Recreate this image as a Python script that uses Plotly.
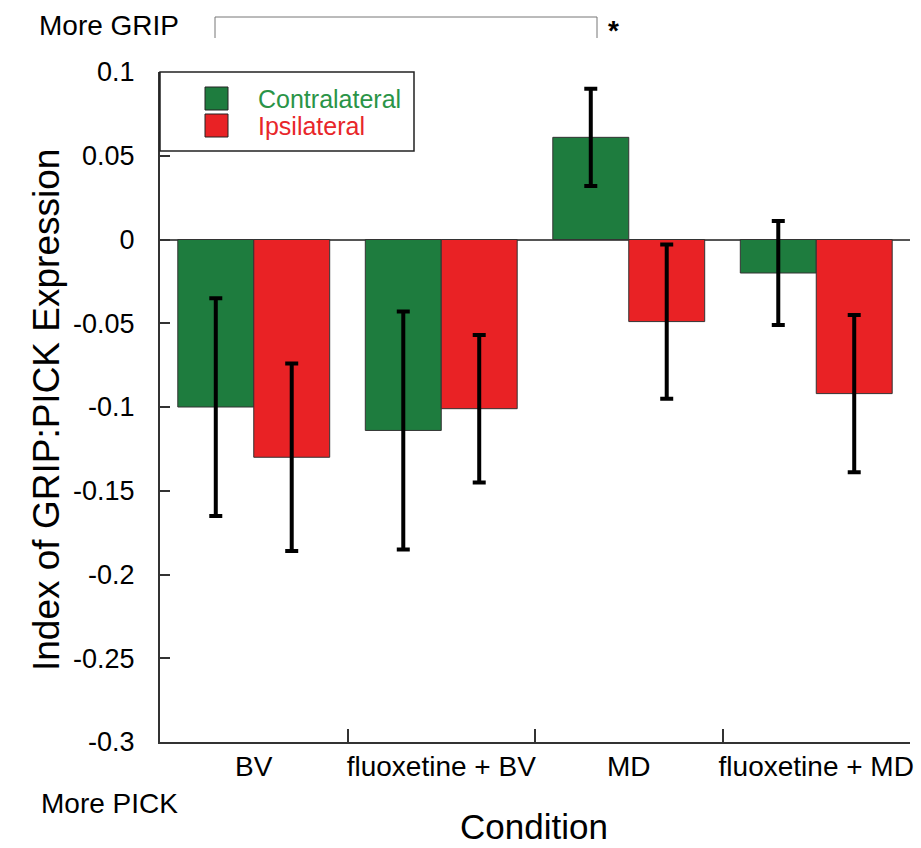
import plotly.graph_objects as go

conditions = ["BV", "fluoxetine + BV", "MD", "fluoxetine + MD"]
series_names = ["Contralateral", "Ipsilateral"]
contra_vals = [-0.100, -0.114, 0.061, -0.020]
contra_err = [0.065, 0.071, 0.029, 0.031]
ipsi_vals = [-0.130, -0.101, -0.049, -0.092]
ipsi_err = [0.056, 0.044, 0.046, 0.047]
ytick_vals = [0.1, 0.05, 0, -0.05, -0.1, -0.15, -0.2, -0.25, -0.3]
ytick_text = ["0.1", "0.05", "0", "-0.05", "-0.1", "-0.15", "-0.2", "-0.25", "-0.3"]

GREEN = "#1e7c3e"
RED = "#e92225"
GREEN_TXT = "#2a9447"
RED_TXT = "#e8262a"
FONT = "Liberation Sans, Arial, sans-serif"

W, H = 921, 848
L, R, T, B = 160, 11, 72, 106
PW, PH = W - L - R, H - T - B


def px(x):
    return (x - L) / PW


def py(y):
    return (H - B - y) / PH


fig = go.Figure()
for name, vals, errs, col in [(series_names[0], contra_vals, contra_err, GREEN),
                              (series_names[1], ipsi_vals, ipsi_err, RED)]:
    fig.add_trace(go.Bar(
        x=conditions, y=vals, name=name,
        marker=dict(color=col, line=dict(color="#333333", width=1)),
        error_y=dict(type="data", array=errs, visible=True, color="black",
                     thickness=4, width=6.5),
        showlegend=False,
    ))

shapes = []
annotations = []

# legend box
shapes.append(dict(type="rect", xref="paper", yref="paper",
                   x0=px(160), x1=px(414), y0=py(151), y1=py(72),
                   line=dict(color="#222222", width=1.5), fillcolor="white", layer="above"))
leg = [(series_names[0], GREEN, GREEN_TXT, 87, 110), (series_names[1], RED, RED_TXT, 114, 137)]
for name, col, tcol, y0, y1 in leg:
    shapes.append(dict(type="rect", xref="paper", yref="paper",
                       x0=px(205), x1=px(228), y0=py(y1), y1=py(y0),
                       line=dict(color="#222222", width=1), fillcolor=col, layer="above"))
    annotations.append(dict(xref="paper", yref="paper", x=px(256), y=py((y0 + y1) / 2),
                            text=name, showarrow=False, xanchor="left", yanchor="middle",
                            font=dict(family=FONT, size=25, color=tcol)))

# significance bracket
shapes.append(dict(type="path", xref="paper", yref="paper",
                   path=f"M {px(215)},{py(38)} L {px(215)},{py(17)} L {px(597)},{py(17)} L {px(597)},{py(38)}",
                   line=dict(color="#777777", width=1)))
annotations.append(dict(xref="paper", yref="paper", x=px(613), y=py(31), text="<b>*</b>",
                        showarrow=False, xanchor="center", yanchor="middle",
                        font=dict(family=FONT, size=28, color="black")))

annotations.append(dict(xref="paper", yref="paper", x=px(37), y=py(25), text="More GRIP",
                        showarrow=False, xanchor="left", yanchor="middle",
                        font=dict(family=FONT, size=28, color="black")))
annotations.append(dict(xref="paper", yref="paper", x=px(39), y=py(803), text="More PICK",
                        showarrow=False, xanchor="left", yanchor="middle",
                        font=dict(family=FONT, size=28, color="black")))
annotations.append(dict(xref="paper", yref="paper", x=px(534), y=py(826), text="Condition",
                        showarrow=False, xanchor="center", yanchor="middle",
                        font=dict(family=FONT, size=35, color="black")))
annotations.append(dict(xref="paper", yref="paper", x=px(46), y=py(410),
                        text="Index of GRIP:PICK Expression", textangle=-90,
                        showarrow=False, xanchor="center", yanchor="middle",
                        font=dict(family=FONT, size=37, color="black")))

fig.update_layout(
    width=W, height=H, autosize=False,
    margin=dict(l=L, r=R, t=T, b=B, autoexpand=False),
    paper_bgcolor="white", plot_bgcolor="white",
    barmode="group", bargap=0.19, bargroupgap=0,
    shapes=shapes, annotations=annotations,
    font=dict(family=FONT, color="black"),
)
fig.update_xaxes(
    type="category", range=[-0.5, 3.5], tickson="boundaries", tickangle=0,
    automargin=False,
    ticks="inside", ticklen=13, tickwidth=2, tickcolor="#333333",
    showline=True, linecolor="#333333", linewidth=2, showgrid=False, zeroline=False,
    tickfont=dict(family=FONT, size=28, color="black"), ticklabelstandoff=-2,
)
fig.update_yaxes(
    range=[-0.3, 0.1], tickvals=ytick_vals, ticktext=ytick_text, automargin=False,
    ticks="inside", ticklen=10, tickwidth=2, tickcolor="#333333",
    showline=True, linecolor="#333333", linewidth=2, showgrid=False,
    zeroline=True, zerolinecolor="#555555", zerolinewidth=1.5,
    tickfont=dict(family=FONT, size=27, color="black"), ticklabelstandoff=18,
)

fig.write_html("out.html")
